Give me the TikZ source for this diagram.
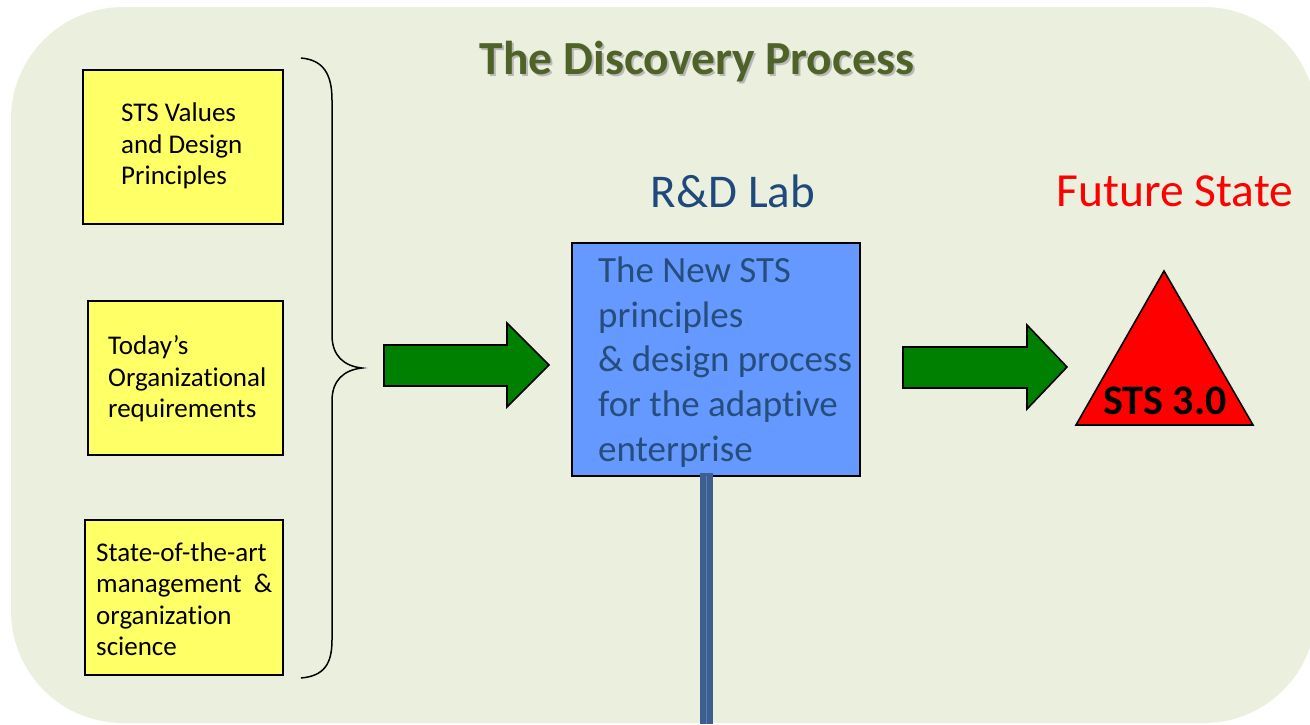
\documentclass[tikz,border=0pt]{standalone}
\usepackage{fontspec}
\setmainfont{Carlito}[Ligatures=NoCommon]
\definecolor{bgc}{HTML}{EBEFDE}
\definecolor{titlec}{HTML}{4F6228}
\definecolor{yel}{HTML}{FFFF66}
\definecolor{labblue}{HTML}{1F497D}
\definecolor{boxblue}{HTML}{6699FF}
\definecolor{boxtext}{HTML}{254E7D}
\definecolor{arrgreen}{HTML}{008000}
\definecolor{bardark}{HTML}{3C5F8F}
\definecolor{barlight}{HTML}{5A7FAE}
\tikzset{
  ybox/.style={draw=black, line width=1.6pt, fill=yel, inner sep=0pt},
  ytext/.style={anchor=west, align=left, inner sep=0pt, font=\fontsize{27}{31.5}\selectfont},
  blockarrow/.style={draw=black, line width=1.6pt, fill=arrgreen, line join=miter},
}
\begin{document}
\begin{tikzpicture}[x=1pt,y=-1pt]
\useasboundingbox (0,0) rectangle (1310,724);
\fill[bgc, rounded corners=112pt] (11,7) rectangle (1316,723);
% title
\node[text=black!28, font=\fontsize{47.5}{56}\bfseries\selectfont] at (699,64) {The Discovery Process};
\node (title) [text=titlec, font=\fontsize{47.5}{56}\bfseries\selectfont] at (697,62) {The Discovery Process};
% yellow boxes
\node (b1) [ybox, minimum width=200pt, minimum height=154pt] at (183,147) {};
\node (t1) [ytext] at (121,146) {STS Values\\and Design\\Principles};
\node (b2) [ybox, minimum width=195pt, minimum height=154pt] at (185.5,378) {};
\node (t2) [ytext] at (108,379) {Today’s\\Organizational\\requirements};
\node (b3) [ybox, minimum width=198pt, minimum height=155pt] at (184,597.5) {};
\node (t3) [ytext] at (96,599) {State-of-the-art\\management~~\&\\organization\\science};
% brace
\draw[line width=1.5pt] (301,58) .. controls (324,60) and (332,75) .. (332,100) -- (332,335)
  .. controls (332,356) and (344,366) .. (362,368)
  .. controls (344,370) and (332,380) .. (332,401) -- (332,640)
  .. controls (332,664) and (324,676) .. (301,678);
% arrow 1
\draw[blockarrow] (384,345) -- (507,345) -- (507,323) -- (549,365) -- (507,407) -- (507,386) -- (384,386) -- cycle;
% arrow 2
\draw[blockarrow] (903,347) -- (1027,347) -- (1027,325) -- (1067,367) -- (1027,409) -- (1027,388) -- (903,388) -- cycle;
% R&D lab
\node (lab) [text=labblue, font=\fontsize{47}{56}\selectfont] at (733,191) {R\&D Lab};
\node (box) [draw=black, line width=1.6pt, fill=boxblue, minimum width=288pt, minimum height=233pt, inner sep=0pt] at (716,359.5) {};
\node (boxt) [anchor=west, align=left, inner sep=0pt, text=boxtext, font=\fontsize{37}{44.6}\selectfont] at (598,362) {The New STS\\principles\\\& design process\\for the adaptive\\enterprise};
% bar
\coordinate (barbot) at (706.5,724);
\fill[bardark] (700,473) rectangle (713,724);
\draw[barlight, line width=1.2pt] (706.5,476) -- (barbot);
% future state
\node (fut) [text=red, font=\fontsize{47.5}{56}\selectfont] at (1175,191) {Future State};
\draw[draw=black, line width=1.6pt, fill=red, line join=miter] (1164,271) -- (1253,425) -- (1076,425) -- cycle;
\node (sts) [font=\fontsize{42}{50}\bfseries\selectfont] at (1165,401) {STS 3.0};
\end{tikzpicture}
\end{document}
